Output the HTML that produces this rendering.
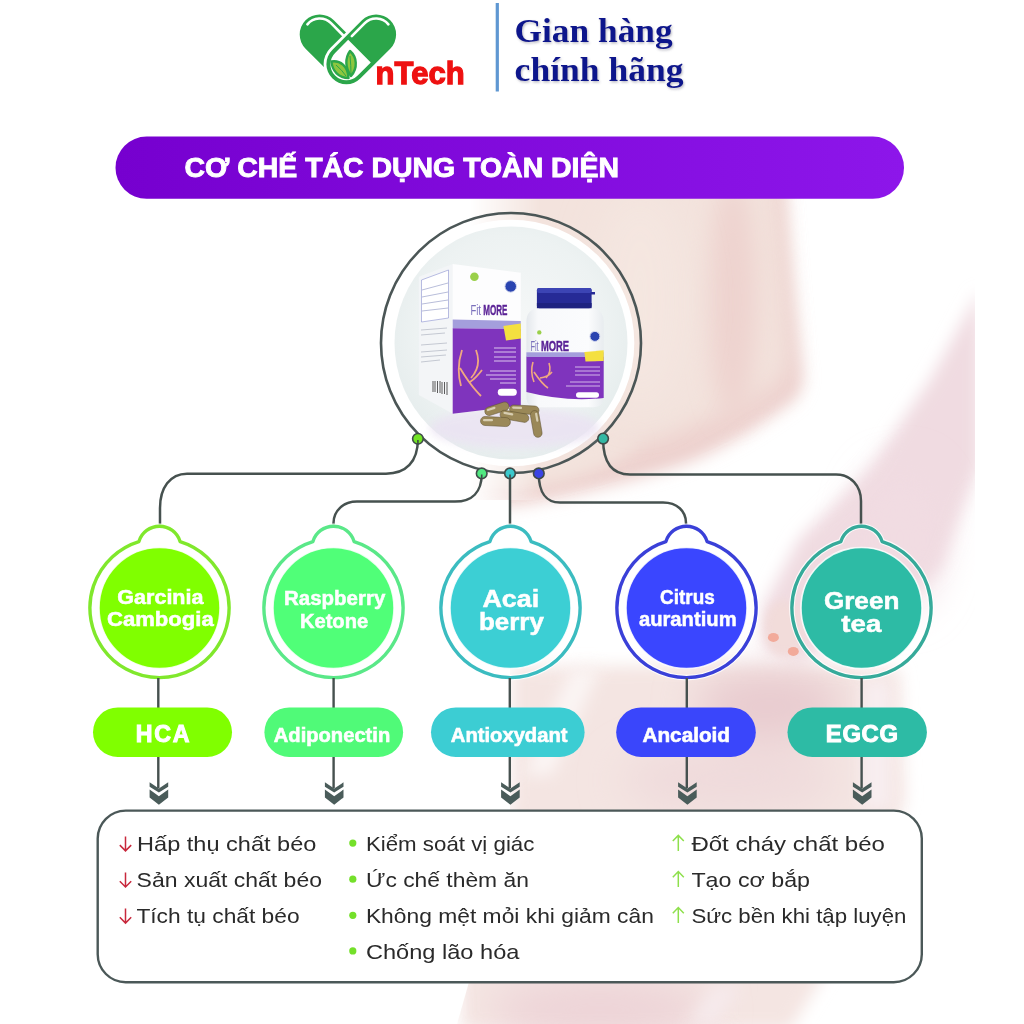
<!DOCTYPE html>
<html><head><meta charset="utf-8">
<style>
html,body{margin:0;padding:0;background:#fff;width:1024px;height:1024px;overflow:hidden}
svg{display:block}
text{font-family:"Liberation Sans",sans-serif}
.w{fill:#fff;font-weight:bold}
.t{fill:#2a2a2a;font-size:20.6px}
</style></head><body>
<svg width="1024" height="1024" viewBox="0 0 1024 1024">
<defs>
  <linearGradient id="ban" x1="0" y1="0" x2="1" y2="0">
    <stop offset="0" stop-color="#7600cf"/>
    <stop offset="1" stop-color="#8d16ea"/>
  </linearGradient>
  <filter id="shd" x="-10%" y="-20%" width="120%" height="140%"><feDropShadow dx="1" dy="1.5" stdDeviation="1" flood-color="#707080" flood-opacity="0.45"/></filter>
  <filter id="blur3" x="-50%" y="-50%" width="200%" height="200%"><feGaussianBlur stdDeviation="3"/></filter>
  <filter id="blur4" x="-50%" y="-50%" width="200%" height="200%"><feGaussianBlur stdDeviation="4"/></filter>
  <filter id="blur8" x="-50%" y="-50%" width="200%" height="200%"><feGaussianBlur stdDeviation="8"/></filter>
  <filter id="blur12" x="-50%" y="-50%" width="200%" height="200%"><feGaussianBlur stdDeviation="12"/></filter>
  <filter id="blur20" x="-50%" y="-50%" width="200%" height="200%"><feGaussianBlur stdDeviation="20"/></filter>
  <filter id="blur40" x="-50%" y="-50%" width="200%" height="200%"><feGaussianBlur stdDeviation="40"/></filter>
  <linearGradient id="fadeL" gradientUnits="userSpaceOnUse" x1="470" y1="0" x2="540" y2="0"><stop offset="0" stop-color="#000"/><stop offset="1" stop-color="#fff"/></linearGradient>
  <mask id="photo" maskUnits="userSpaceOnUse" x="0" y="0" width="1024" height="1024">
    <rect x="420" y="198" width="555" height="302" fill="url(#fadeL)"/>
    <rect x="510" y="500" width="465" height="524" fill="#fff"/>
    <path d="M 469 982 L 511 982 L 511 1024 L 457 1024 Z" fill="#fff"/>
  </mask>
  <radialGradient id="disc" cx="0.5" cy="0.45" r="0.55">
    <stop offset="0" stop-color="#f6f8f8"/>
    <stop offset="0.75" stop-color="#edf2f2"/>
    <stop offset="1" stop-color="#e6eded"/>
  </radialGradient>
</defs>

<!-- BACKGROUND PHOTO (approx) -->
<rect width="1024" height="1024" fill="#fff"/>
<g mask="url(#photo)">
  <!-- torso skin: darker rim + lighter interior -->
  <path d="M 300 150 L 783 150 C 788 230 795 310 802 365 C 806 385 800 398 788 405 C 760 425 730 445 690 462 C 650 476 600 490 520 505 L 300 505 Z" fill="#edd0cd" filter="url(#blur8)"/>
  <path d="M 300 130 L 772 130 C 778 220 785 300 788 350 C 790 372 780 384 765 392 C 735 408 705 424 665 438 C 630 450 590 462 520 476 L 300 476 Z" fill="#f3e3dd" filter="url(#blur12)"/>
  <ellipse cx="733" cy="300" rx="24" ry="120" fill="#eed3cf" filter="url(#blur12)"/>
  <path d="M 420 440 L 640 440 C 620 462 580 480 520 490 L 420 490 Z" fill="#f3e3dd" filter="url(#blur8)"/>
  <g filter="url(#blur8)">
    <!-- arm -->
    <path d="M 980 290 L 980 465 L 940 568 L 870 628 L 800 660 L 764 650 L 762 608 L 799 539 L 869 469 L 930 380 Z" fill="#f0dbe1"/>
    <!-- thighs -->
    <path d="M 512 668 C 650 664 800 666 900 670 L 905 800 L 870 900 L 790 1030 L 462 1030 L 462 980 L 512 800 Z" fill="#f4e5e2"/>
  </g>
  <g filter="url(#blur20)">
    <ellipse cx="640" cy="300" rx="45" ry="110" fill="#f4e6e0"/>
    <ellipse cx="730" cy="780" rx="110" ry="32" fill="#efdadb"/>
    <ellipse cx="770" cy="705" rx="75" ry="35" fill="#e8cbcf"/>
    <ellipse cx="600" cy="1010" rx="110" ry="30" fill="#edd3d7"/>
    <ellipse cx="900" cy="540" rx="40" ry="70" fill="#f1dce2"/>
  </g>
  <g filter="url(#blur8)">
    <path d="M 572 668 L 600 668 L 552 775 L 524 775 Z" fill="#fbf5f4"/>
    <path d="M 712 985 L 742 985 L 716 1025 L 688 1025 Z" fill="#f6eaec"/>
    <rect x="862" y="680" width="30" height="130" fill="#f8eef0"/>
  </g>
  <ellipse cx="784" cy="628" rx="20" ry="28" fill="#f2dcda" filter="url(#blur4)"/>
  <!-- fingernails -->
  <ellipse cx="773.4" cy="637.4" rx="5.5" ry="4.5" fill="#f2aa9a"/>
  <ellipse cx="793.3" cy="651.4" rx="5.5" ry="4.5" fill="#f2aa9a"/>
</g>

<!-- LOGO -->
<g id="logo">
  <!-- left capsule -->
  <g transform="translate(319.7,34.5) rotate(45)">
    <rect x="-20" y="-20" width="82" height="40" rx="20" fill="#2ba64a"/>
    <path d="M -15.9 1.5 A 16 16 0 0 1 0 -16 L 17 -16" fill="none" stroke="#fff" stroke-width="2.6" stroke-linecap="round"/>
  </g>
  <!-- right capsule -->
  <g transform="translate(376.1,34.5) rotate(135)">
    <rect x="-22.8" y="-22.8" width="87.6" height="45.6" rx="22.8" fill="#fff"/>
    <rect x="-20" y="-20" width="82" height="40" rx="20" fill="#2ba64a"/>
    <path d="M 23.5 -16 L 42 -16 A 16 16 0 0 1 42 16 L 23.5 16 Z" fill="#fff"/>
    <path d="M 18.3 16 L 0 16 A 16 16 0 0 1 -15.9 -1.5" fill="none" stroke="#fff" stroke-width="2.6" stroke-linecap="round"/>
  </g>
  <!-- leaves -->
  <path d="M 331.5 61.5 C 340 60 348 66 348.5 78 C 339 78 332 71 331.5 61.5 Z" fill="#8dc63f" stroke="#2ba64a" stroke-width="2.4" stroke-linejoin="round"/>
  <path d="M 350 51 C 357 57 358 68 351 76 C 345 68 345 58 350 51 Z" fill="#8dc63f" stroke="#2ba64a" stroke-width="2.4" stroke-linejoin="round"/>
  <path d="M 336 65 Q 342 70 346 76 M 350 56 Q 351 66 351 74" stroke="#2ba64a" stroke-width="1" fill="none"/>
  <text x="375.6" y="83.8" font-size="32" font-weight="bold" fill="#ee1111" stroke="#ee1111" stroke-width="1.3" textLength="89" lengthAdjust="spacingAndGlyphs">nTech</text>
</g>

<!-- divider + shop text -->
<rect x="495.7" y="3" width="3.2" height="88.5" fill="#5f97d2"/>
<text filter="url(#shd)" x="514.6" y="42.4" font-family="Liberation Serif" font-size="34" font-weight="bold" fill="#0c148c" textLength="158" lengthAdjust="spacingAndGlyphs" style="font-family:'Liberation Serif',serif">Gian hàng</text>
<text filter="url(#shd)" x="514.6" y="81.4" font-family="Liberation Serif" font-size="34" font-weight="bold" fill="#0c148c" textLength="169" lengthAdjust="spacingAndGlyphs" style="font-family:'Liberation Serif',serif">chính hãng</text>

<!-- BANNER -->
<rect x="115.5" y="136.6" width="788.5" height="62.2" rx="31.1" fill="url(#ban)"/>
<text x="184.6" y="177" class="w" font-size="27.6" stroke="#fff" stroke-width="0.9" textLength="434.4" lengthAdjust="spacingAndGlyphs">CƠ CHẾ TÁC DỤNG TOÀN DIỆN</text>

<!-- CENTER CIRCLE -->
<circle cx="511" cy="343" r="123.3" fill="#fff"/>
<circle cx="511" cy="343" r="116.5" fill="url(#disc)"/>
<circle cx="511" cy="343" r="130" fill="none" stroke="#4b5656" stroke-width="2.6"/>

<!-- products -->
<g id="products">
  <!-- reflection -->
  <ellipse cx="515" cy="428" rx="85" ry="20" fill="#ebe3f3" opacity="0.85" filter="url(#blur4)"/>
  <!-- box side -->
  <path d="M 418.9 276.7 L 452.7 263.9 L 452.7 413.7 L 418.9 395.1 Z" fill="#f3f5f7"/>
  <path d="M 421.5 280 L 448.5 270 L 448.5 318 L 421.5 322 Z" fill="#fff" stroke="#8a90d0" stroke-width="0.6"/>
  <g stroke="#9aa0c8" stroke-width="0.7">
    <line x1="422" y1="290" x2="448" y2="283"/><line x1="422" y1="297" x2="448" y2="292"/>
    <line x1="422" y1="304" x2="448" y2="300"/><line x1="422" y1="311" x2="448" y2="308"/>
  </g>
  <g stroke="#b8bcc8" stroke-width="0.8">
    <line x1="421" y1="330" x2="447" y2="328"/><line x1="421" y1="335" x2="445" y2="333"/>
    <line x1="421" y1="345" x2="447" y2="343"/><line x1="421" y1="352" x2="447" y2="350"/>
    <line x1="421" y1="357" x2="446" y2="355"/><line x1="421" y1="362" x2="440" y2="360"/>
  </g>
  <g stroke="#333" stroke-width="0.8">
    <line x1="433" y1="381" x2="433" y2="392"/><line x1="435" y1="381" x2="435" y2="392"/><line x1="437.5" y1="381" x2="437.5" y2="393"/>
    <line x1="440" y1="381" x2="440" y2="393"/><line x1="442" y1="382" x2="442" y2="394"/><line x1="444.5" y1="382" x2="444.5" y2="394"/><line x1="447" y1="382" x2="447" y2="395"/>
  </g>
  <!-- box front -->
  <path d="M 452.7 263.9 L 520.8 272.7 L 520.8 405.6 L 452.7 413.7 Z" fill="#fdfdfe"/>
  <path d="M 452.7 319.4 L 520.8 321 L 520.8 329 L 452.7 328.3 Z" fill="#a49edc"/>
  <path d="M 452.7 328.3 L 520.8 329 L 520.8 405.6 L 452.7 413.7 Z" fill="#7f34bd"/>
  <text x="470.4" y="315.4" font-size="15" fill="#7a70bc" textLength="10.5" lengthAdjust="spacingAndGlyphs">Fit</text>
  <text x="483.3" y="315.4" font-size="15" font-weight="bold" fill="#5a2296" stroke="#5a2296" stroke-width="0.4" textLength="24.2" lengthAdjust="spacingAndGlyphs">MORE</text>
  <circle cx="474.4" cy="276.7" r="4.3" fill="#9ad04a"/>
  <circle cx="510.7" cy="286.4" r="5.8" fill="#2a44b0" stroke="#d8dcf0" stroke-width="1"/>
  <path d="M 462 350 Q 456 368 461 386 M 476 350 Q 482 366 471 378 M 460 368 Q 470 385 481 396 M 482 370 Q 476 378 470 382" stroke="#f0a880" stroke-width="1.8" fill="none"/>
  <path d="M 503.4 326 L 520.8 323.5 L 521 338.5 L 506 340.4 Z" fill="#f4e040"/>
  <rect x="497.8" y="388.7" width="19" height="7" rx="3.5" fill="#fff"/>
  <g stroke="#e8d8f4" stroke-width="0.9">
    <line x1="494" y1="348" x2="516" y2="348"/><line x1="494" y1="352" x2="516" y2="352"/>
    <line x1="494" y1="357" x2="516" y2="357"/><line x1="494" y1="361" x2="516" y2="361"/>
    <line x1="490" y1="371" x2="516" y2="371"/><line x1="486" y1="375" x2="516" y2="375"/>
    <line x1="490" y1="379" x2="516" y2="379"/><line x1="500" y1="383" x2="516" y2="383"/>
  </g>
  <!-- bottle -->
  <linearGradient id="btl" x1="0" y1="0" x2="1" y2="0">
    <stop offset="0" stop-color="#e4e8ec"/><stop offset="0.15" stop-color="#f8f9fb"/><stop offset="0.8" stop-color="#fbfcfd"/><stop offset="1" stop-color="#e8ecef"/>
  </linearGradient>
  <path d="M 526.4 322 Q 526.4 308.2 540 308.2 L 590 308.2 Q 603.7 308.2 603.7 322 L 603.7 397 Q 603.7 407.3 593 407.3 L 537 407.3 Q 526.4 407.3 526.4 397 Z" fill="url(#btl)"/>
  <path d="M 526.4 356.5 L 603.7 356.5 L 603.7 398 Q 565 402 526.4 392 Z" fill="#7f34bd"/>
  <rect x="526.4" y="352.3" width="77.3" height="4.5" fill="#a49edc"/>
  <rect x="536.9" y="288" width="54.7" height="20.2" rx="2.5" fill="#262a96"/>
  <rect x="536.9" y="288" width="54.7" height="5" rx="2" fill="#3c44b4"/>
  <rect x="536.9" y="303" width="54.7" height="5.2" fill="#1e2280"/>
  <rect x="591" y="292" width="4" height="2.5" fill="#262a96"/>
  <text x="530.4" y="350.5" font-size="15" fill="#7a70bc" textLength="8.3" lengthAdjust="spacingAndGlyphs">Fit</text>
  <text x="540.9" y="350.5" font-size="15" font-weight="bold" fill="#5a2296" stroke="#5a2296" stroke-width="0.4" textLength="28.2" lengthAdjust="spacingAndGlyphs">MORE</text>
  <circle cx="594.9" cy="336.4" r="5" fill="#2a44b0" stroke="#d8dcf0" stroke-width="1"/>
  <circle cx="539.3" cy="332.4" r="2.2" fill="#9ad04a"/>
  <path d="M 584.4 352 L 603.7 350.3 L 603.7 361 L 585.5 361.5 Z" fill="#f4e040"/>
  <rect x="576" y="392.3" width="23" height="5.5" rx="2.7" fill="#fff"/>
  <path d="M 533 362 Q 530 372 534 382 M 549 363 Q 552 372 546 378 M 534 372 Q 542 384 548 388 M 552 372 Q 548 377 540 378" stroke="#f0a880" stroke-width="1.6" fill="none"/>
  <g stroke="#e8d8f4" stroke-width="0.8">
    <line x1="575" y1="367" x2="600" y2="367"/><line x1="575" y1="371" x2="600" y2="371"/>
    <line x1="575" y1="375" x2="600" y2="375"/><line x1="570" y1="382" x2="600" y2="382"/>
    <line x1="566" y1="386" x2="600" y2="386"/>
  </g>
  <!-- capsules -->
  <g fill="#9a8858" stroke="#5e5030" stroke-width="0.5">
    <rect x="484.5" y="404.5" width="25" height="8.5" rx="4.2" transform="rotate(-18 497 409)"/>
    <rect x="509.5" y="405.5" width="29.5" height="8.5" rx="4.2" transform="rotate(3 524 410)"/>
    <rect x="500" y="412" width="29" height="8.5" rx="4.2" transform="rotate(10 514 416)"/>
    <rect x="480.5" y="417" width="30" height="9" rx="4.5" transform="rotate(3 495 421)"/>
    <rect x="522.5" y="419.5" width="27" height="8.5" rx="4.2" transform="rotate(80 536 424)"/>
  </g>
  <g fill="#e2dac0" opacity="0.85">
    <rect x="487" y="406" width="9" height="2.3" rx="1.1" transform="rotate(-18 497 409)"/>
    <rect x="483" y="419" width="10" height="2.3" rx="1.1"/>
    <rect x="503" y="413.5" width="10" height="2.3" rx="1.1" transform="rotate(10 514 416)"/>
    <rect x="512" y="407" width="10" height="2.2" rx="1.1" transform="rotate(3 524 410)"/>
    <rect x="525" y="421" width="9" height="2.2" rx="1.1" transform="rotate(80 536 424)"/>
  </g>
</g>

<!-- CONNECTORS -->
<g fill="none" stroke="#46514f" stroke-width="2.5">
  <path d="M 417.9 439 C 417.9 462 406 473.7 386 473.7 L 187 473.7 C 170 473.7 160 488 160 508 L 160 526"/>
  <path d="M 481.7 474 C 481.7 492 472 501.6 455 501.6 L 357 501.6 C 343 501.6 333.5 511 333.5 523 L 333.5 526"/>
  <path d="M 510 474 L 510 526"/>
  <path d="M 538.8 474 C 538.8 492 546 502.6 560 502.6 L 663 502.6 C 677 502.6 686 511 686 523 L 686 526"/>
  <path d="M 603.1 439 C 603.1 462 612 474.5 630 474.5 L 836 474.5 C 851 474.5 861 486 861 501 L 861 526"/>
</g>
<!-- dots -->
<g stroke="#3f4b49" stroke-width="1.6">
  <circle cx="417.9" cy="438.8" r="5.3" fill="#72e424"/>
  <circle cx="603.1" cy="438.6" r="5.3" fill="#34b8a4"/>
  <circle cx="481.7" cy="473.4" r="5.3" fill="#50e880"/>
  <circle cx="510" cy="473.4" r="5.3" fill="#3cc8cc"/>
  <circle cx="538.8" cy="473.4" r="5.3" fill="#3a44e4"/>
</g>
<g stroke="#3f4b49" stroke-width="1.6">
  <line x1="417.9" y1="440" x2="417.9" y2="444"/>
  <line x1="481.7" y1="474.5" x2="481.7" y2="479"/>
  <line x1="510" y1="474.5" x2="510" y2="479"/>
</g>

<!-- INGREDIENT CIRCLES -->
<circle cx="159.5" cy="608" r="60.5" fill="#80ff00" stroke="#fff" stroke-opacity="0.85" stroke-width="1.6"/>
<path d="M 138.91 541.52 A 21.5 21.5 0 0 1 180.09 541.52 A 69.6 69.6 0 1 1 138.91 541.52 Z" fill="none" stroke="#fff" stroke-opacity="0.85" stroke-width="5.6" stroke-linejoin="round"/>
<path d="M 138.91 541.52 A 21.5 21.5 0 0 1 180.09 541.52 A 69.6 69.6 0 1 1 138.91 541.52 Z" fill="none" stroke="#80e82c" stroke-width="3.4" stroke-linejoin="round"/>
<text x="117.3" y="603.8" class="w" font-size="19.8" stroke="#fff" stroke-width="0.5" textLength="86.2" lengthAdjust="spacingAndGlyphs">Garcinia</text>
<text x="107" y="626.3" class="w" font-size="19.8" stroke="#fff" stroke-width="0.5" textLength="106.7" lengthAdjust="spacingAndGlyphs">Cambogia</text>
<circle cx="333.5" cy="608" r="60.5" fill="#50ff78" stroke="#fff" stroke-opacity="0.85" stroke-width="1.6"/>
<path d="M 312.91 541.52 A 21.5 21.5 0 0 1 354.09 541.52 A 69.6 69.6 0 1 1 312.91 541.52 Z" fill="none" stroke="#fff" stroke-opacity="0.85" stroke-width="5.6" stroke-linejoin="round"/>
<path d="M 312.91 541.52 A 21.5 21.5 0 0 1 354.09 541.52 A 69.6 69.6 0 1 1 312.91 541.52 Z" fill="none" stroke="#5ae888" stroke-width="3.4" stroke-linejoin="round"/>
<text x="284.1" y="605.3" class="w" font-size="19.5" stroke="#fff" stroke-width="0.5" textLength="101.2" lengthAdjust="spacingAndGlyphs">Raspberry</text>
<text x="299.9" y="628.1" class="w" font-size="19.5" stroke="#fff" stroke-width="0.5" textLength="68.3" lengthAdjust="spacingAndGlyphs">Ketone</text>
<circle cx="510.5" cy="608" r="60.5" fill="#3ccfd4" stroke="#fff" stroke-opacity="0.85" stroke-width="1.6"/>
<path d="M 489.91 541.52 A 21.5 21.5 0 0 1 531.09 541.52 A 69.6 69.6 0 1 1 489.91 541.52 Z" fill="none" stroke="#fff" stroke-opacity="0.85" stroke-width="5.6" stroke-linejoin="round"/>
<path d="M 489.91 541.52 A 21.5 21.5 0 0 1 531.09 541.52 A 69.6 69.6 0 1 1 489.91 541.52 Z" fill="none" stroke="#3bbcc0" stroke-width="3.4" stroke-linejoin="round"/>
<text x="482.4" y="606.9" class="w" font-size="23.5" stroke="#fff" stroke-width="0.5" textLength="56.7" lengthAdjust="spacingAndGlyphs">Acai</text>
<text x="479" y="630.2" class="w" font-size="23.5" stroke="#fff" stroke-width="0.5" textLength="64.9" lengthAdjust="spacingAndGlyphs">berry</text>
<circle cx="686.5" cy="608" r="60.5" fill="#3a46ff" stroke="#fff" stroke-opacity="0.85" stroke-width="1.6"/>
<path d="M 665.91 541.52 A 21.5 21.5 0 0 1 707.09 541.52 A 69.6 69.6 0 1 1 665.91 541.52 Z" fill="none" stroke="#fff" stroke-opacity="0.85" stroke-width="5.6" stroke-linejoin="round"/>
<path d="M 665.91 541.52 A 21.5 21.5 0 0 1 707.09 541.52 A 69.6 69.6 0 1 1 665.91 541.52 Z" fill="none" stroke="#3a40d8" stroke-width="3.4" stroke-linejoin="round"/>
<text x="660.1" y="603.5" class="w" font-size="20.8" stroke="#fff" stroke-width="0.5" textLength="54.7" lengthAdjust="spacingAndGlyphs">Citrus</text>
<text x="638.9" y="626.3" class="w" font-size="20.8" stroke="#fff" stroke-width="0.5" textLength="97.8" lengthAdjust="spacingAndGlyphs">aurantium</text>
<circle cx="861.5" cy="608" r="60.5" fill="#2dbba5" stroke="#fff" stroke-opacity="0.85" stroke-width="1.6"/>
<path d="M 840.91 541.52 A 21.5 21.5 0 0 1 882.09 541.52 A 69.6 69.6 0 1 1 840.91 541.52 Z" fill="none" stroke="#fff" stroke-opacity="0.85" stroke-width="5.6" stroke-linejoin="round"/>
<path d="M 840.91 541.52 A 21.5 21.5 0 0 1 882.09 541.52 A 69.6 69.6 0 1 1 840.91 541.52 Z" fill="none" stroke="#36aa9a" stroke-width="3.4" stroke-linejoin="round"/>
<text x="823.9" y="609.4" class="w" font-size="23.5" stroke="#fff" stroke-width="0.5" textLength="75.5" lengthAdjust="spacingAndGlyphs">Green</text>
<text x="841.3" y="632.2" class="w" font-size="23.5" stroke="#fff" stroke-width="0.5" textLength="40.0" lengthAdjust="spacingAndGlyphs">tea</text>
<path d="M 158.3 678 L 158.3 709 M 158.3 755 L 158.3 788" stroke="#46514f" stroke-width="2.4" fill="none"/>
<path d="M 333.6 678 L 333.6 709 M 333.6 755 L 333.6 788" stroke="#46514f" stroke-width="2.4" fill="none"/>
<path d="M 509.8 678 L 509.8 709 M 509.8 755 L 509.8 788" stroke="#46514f" stroke-width="2.4" fill="none"/>
<path d="M 686.8 678 L 686.8 709 M 686.8 755 L 686.8 788" stroke="#46514f" stroke-width="2.4" fill="none"/>
<path d="M 861.6 678 L 861.6 709 M 861.6 755 L 861.6 788" stroke="#46514f" stroke-width="2.4" fill="none"/>
<rect x="93" y="707.4" width="139.0" height="49.6" rx="24.8" fill="#80ff00"/>
<text x="135.8" y="741.9" class="w" font-size="23.2" stroke="#fff" stroke-width="1.0" textLength="53.6" lengthAdjust="spacing">HCA</text>
<path d="M 149.6 782.3 L 158.9 788.6 L 168.20000000000002 782.3 L 168.20000000000002 786.8 L 158.9 792.6 L 149.6 786.8 Z" fill="#4a5c5a"/>
<path d="M 149.6 789.6 L 158.9 796.2 L 168.20000000000002 789.6 L 168.20000000000002 797.4 L 158.9 804.8 L 149.6 797.4 Z" fill="#4a5c5a"/>
<rect x="264.4" y="707.4" width="138.7" height="49.6" rx="24.8" fill="#50fa78"/>
<text x="273.8" y="741.6" class="w" font-size="20" stroke="#fff" stroke-width="0.6" textLength="116.4" lengthAdjust="spacingAndGlyphs">Adiponectin</text>
<path d="M 324.90000000000003 782.3 L 334.20000000000005 788.6 L 343.50000000000006 782.3 L 343.50000000000006 786.8 L 334.20000000000005 792.6 L 324.90000000000003 786.8 Z" fill="#4a5c5a"/>
<path d="M 324.90000000000003 789.6 L 334.20000000000005 796.2 L 343.50000000000006 789.6 L 343.50000000000006 797.4 L 334.20000000000005 804.8 L 324.90000000000003 797.4 Z" fill="#4a5c5a"/>
<rect x="431" y="707.4" width="153.6" height="49.6" rx="24.8" fill="#3ccdd3"/>
<text x="450.8" y="741.6" class="w" font-size="20" stroke="#fff" stroke-width="0.6" textLength="116.7" lengthAdjust="spacingAndGlyphs">Antioxydant</text>
<path d="M 501.1 782.3 L 510.40000000000003 788.6 L 519.7 782.3 L 519.7 786.8 L 510.40000000000003 792.6 L 501.1 786.8 Z" fill="#4a5c5a"/>
<path d="M 501.1 789.6 L 510.40000000000003 796.2 L 519.7 789.6 L 519.7 797.4 L 510.40000000000003 804.8 L 501.1 797.4 Z" fill="#4a5c5a"/>
<rect x="616.2" y="707.4" width="139.6" height="49.6" rx="24.8" fill="#3a46fb"/>
<text x="642.5" y="741.6" class="w" font-size="20" stroke="#fff" stroke-width="0.6" textLength="87.5" lengthAdjust="spacingAndGlyphs">Ancaloid</text>
<path d="M 678.1 782.3 L 687.4 788.6 L 696.6999999999999 782.3 L 696.6999999999999 786.8 L 687.4 792.6 L 678.1 786.8 Z" fill="#4a5c5a"/>
<path d="M 678.1 789.6 L 687.4 796.2 L 696.6999999999999 789.6 L 696.6999999999999 797.4 L 687.4 804.8 L 678.1 797.4 Z" fill="#4a5c5a"/>
<rect x="787.5" y="707.4" width="139.4" height="49.6" rx="24.8" fill="#2dbba5"/>
<text x="825.8" y="741.9" class="w" font-size="23.8" stroke="#fff" stroke-width="1.0" textLength="72.2" lengthAdjust="spacing">EGCG</text>
<path d="M 852.9000000000001 782.3 L 862.2 788.6 L 871.5 782.3 L 871.5 786.8 L 862.2 792.6 L 852.9000000000001 786.8 Z" fill="#4a5c5a"/>
<path d="M 852.9000000000001 789.6 L 862.2 796.2 L 871.5 789.6 L 871.5 797.4 L 862.2 804.8 L 852.9000000000001 797.4 Z" fill="#4a5c5a"/>
<rect x="97.7" y="810.6" width="824.1" height="171.6" rx="28" fill="#fff" stroke="#4b5858" stroke-width="2.4"/>
<text x="137.1" y="850.9" class="t" textLength="179.3" lengthAdjust="spacingAndGlyphs">Hấp thụ chất béo</text>
<path d="M 125.5 836.4 L 125.5 850.9 M 119.8 845.1 L 125.5 850.9 L 131.2 845.1" stroke="#c8283c" stroke-width="1.5" fill="none"/>
<text x="136.6" y="887.0" class="t" textLength="185.4" lengthAdjust="spacingAndGlyphs">Sản xuất chất béo</text>
<path d="M 125.5 872.5 L 125.5 887.0 M 119.8 881.2 L 125.5 887.0 L 131.2 881.2" stroke="#c8283c" stroke-width="1.5" fill="none"/>
<text x="136.4" y="923.1" class="t" textLength="163.2" lengthAdjust="spacingAndGlyphs">Tích tụ chất béo</text>
<path d="M 125.5 908.6 L 125.5 923.1 M 119.8 917.3000000000001 L 125.5 923.1 L 131.2 917.3000000000001" stroke="#c8283c" stroke-width="1.5" fill="none"/>
<text x="365.9" y="850.9" class="t" textLength="168.5" lengthAdjust="spacingAndGlyphs">Kiểm soát vị giác</text>
<circle cx="352.8" cy="843.1" r="3.6" fill="#74e02a"/>
<text x="365.9" y="887.0" class="t" textLength="163.0" lengthAdjust="spacingAndGlyphs">Ức chế thèm ăn</text>
<circle cx="352.8" cy="879.2" r="3.6" fill="#74e02a"/>
<text x="365.9" y="923.1" class="t" textLength="288.0" lengthAdjust="spacingAndGlyphs">Không mệt mỏi khi giảm cân</text>
<circle cx="352.8" cy="915.3000000000001" r="3.6" fill="#74e02a"/>
<text x="365.9" y="958.7" class="t" textLength="153.5" lengthAdjust="spacingAndGlyphs">Chống lão hóa</text>
<circle cx="352.8" cy="950.9000000000001" r="3.6" fill="#74e02a"/>
<text x="691.4" y="850.9" class="t" textLength="193.5" lengthAdjust="spacingAndGlyphs">Đốt cháy chất béo</text>
<path d="M 678.3 850.9 L 678.3 835.4 M 672.8 841.1 L 678.3 835.4 L 683.8 841.1" stroke="#8ee04c" stroke-width="1.5" fill="none"/>
<text x="691.4" y="887.0" class="t" textLength="118.6" lengthAdjust="spacingAndGlyphs">Tạo cơ bắp</text>
<path d="M 678.3 887.0 L 678.3 871.5 M 672.8 877.2 L 678.3 871.5 L 683.8 877.2" stroke="#8ee04c" stroke-width="1.5" fill="none"/>
<text x="691.4" y="923.1" class="t" textLength="215.0" lengthAdjust="spacingAndGlyphs">Sức bền khi tập luyện</text>
<path d="M 678.3 923.1 L 678.3 907.6 M 672.8 913.3000000000001 L 678.3 907.6 L 683.8 913.3000000000001" stroke="#8ee04c" stroke-width="1.5" fill="none"/>
</svg>
</body></html>
